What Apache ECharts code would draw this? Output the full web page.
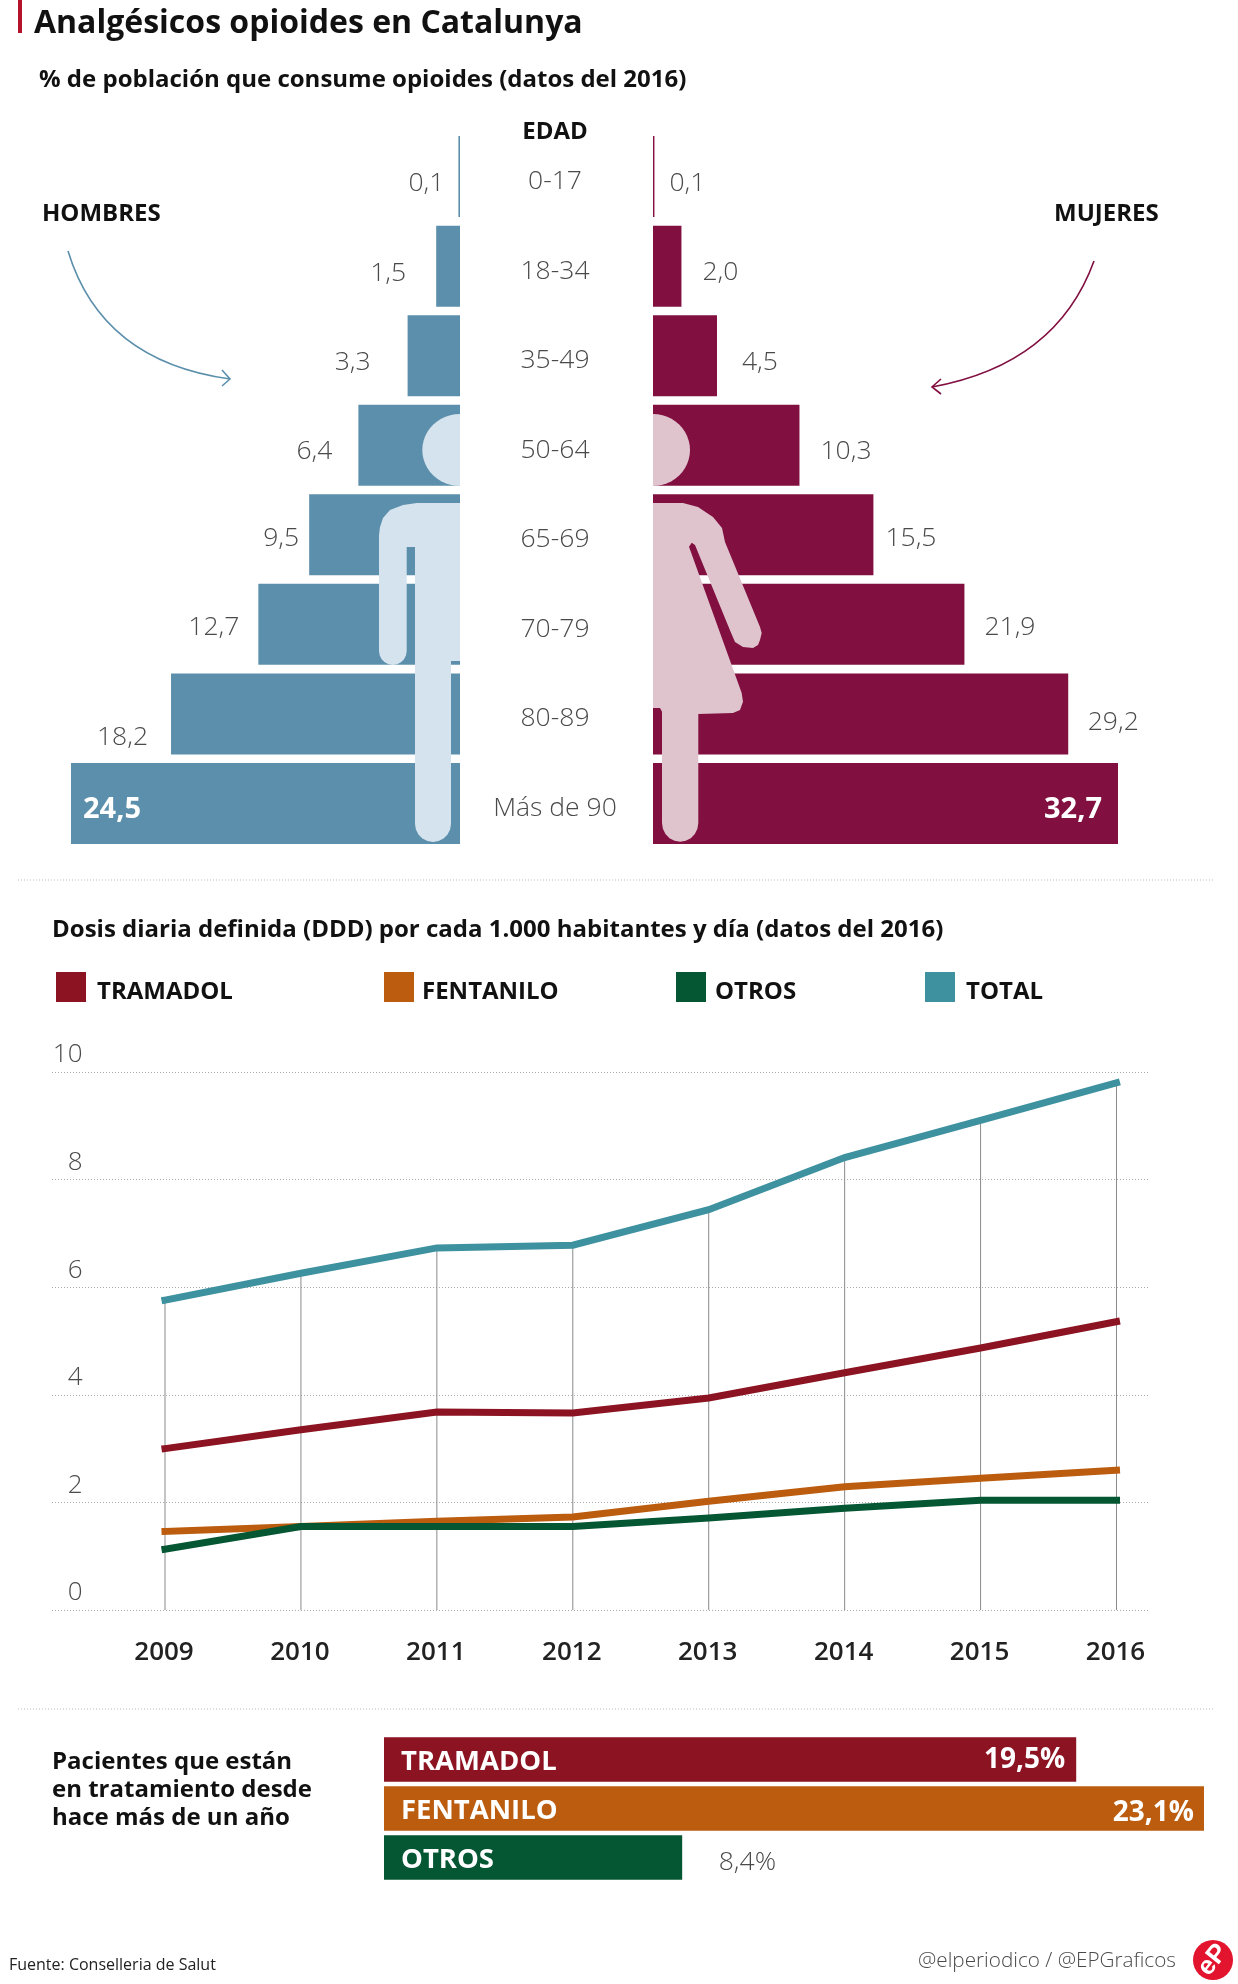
<!DOCTYPE html>
<html><head><meta charset="utf-8">
<style>html,body{margin:0;padding:0;background:#fff}#c{width:1238px;height:1984px}</style>
<script src="https://cdn.jsdelivr.net/npm/echarts@6/dist/echarts.min.js"></script>
</head><body><div id="c"></div>
<script>
// ---- data ----
const ageGroups = ['0-17','18-34','35-49','50-64','65-69','70-79','80-89','Más de 90'];
const menValues = [0.1,1.5,3.3,6.4,9.5,12.7,18.2,24.5];
const womenValues = [0.1,2.0,4.5,10.3,15.5,21.9,29.2,32.7];
const years = ['2009','2010','2011','2012','2013','2014','2015','2016'];
const tramadol = [3.0,3.35,3.68,3.66,3.94,4.41,4.87,5.36];
const fentanilo = [1.46,1.55,1.65,1.73,2.02,2.29,2.45,2.6];
const otros = [1.13,1.55,1.55,1.55,1.71,1.89,2.04,2.04];
const total = [5.76,6.26,6.73,6.78,7.44,8.41,9.1,9.8];
const longTermNames = ['TRAMADOL','FENTANILO','OTROS'];
const longTermValues = [19.5,23.1,8.4];

// ---- label nudges (style, not data) ----
const menGap = [14,30,37,26,10,19,23,12];
const menDy = [7,7,7,6,4,3,24,6];
const womenGap = [15,21,25,21,12,20,19.5,16];
const womenDy = [7,6,7,6,4,3,9,6];

const F = '"Open Sans"';
const INK = '#111', SOFT = '#4a4a4a';
const C = {men:'#5c8fac',women:'#810f40',tra:'#8c1321',fen:'#bb5c0e',otr:'#055633',tot:'#3e919f'};
const fmt = v => v.toFixed(1).replace('.',',');

function pyramidItems(vals,gaps,dys,side){
  return vals.map((v,i)=>{
    const last = i===vals.length-1;
    return {value:v,label:{
      position: last ? (side==='left'?'insideLeft':'insideRight') : side,
      distance: gaps[i], offset:[0,dys[i]],
      color: last?'#fff':SOFT, fontWeight: last?700:300, fontSize: last?29:26.5, fontFamily:F
    }};
  });
}
function arc(cx,cy,rx,ry,a0,a1,n){
  const p=[];for(let i=0;i<=n;i++){const a=(a0+(a1-a0)*i/n)*Math.PI/180;p.push([cx+rx*Math.cos(a),cy+ry*Math.sin(a)]);}return p;
}
const manBody = [[460,503],[417,503]].concat(
  [[403,505],[390,510],[383,518],[380,527],[379,535]],
  arc(392.85,651,13.85,14,180,0,10),
  [[406.7,547],[415,547]],
  arc(433,824,18,18,180,0,10),
  [[451,661],[460,661]]);
const womanBody = [[653,503],[683,503],[698,507],[713,517],[722,528],[725,542],[760,627],[761.7,633],[760,640],[758,645],[753,648],[743,647],[735,642],[730.7,632],[695,545],[691.7,542.7],[689,546.7],[741.7,693],[743,701.7],[740,710],[733,713],[698.3,714]].concat(
  arc(680.15,823,18.15,18.7,0,180,10),
  [[662,711.7],[660,708],[653,708]]);
const manHead = arc(460,450,37.7,36,90,270,24);
const womanHead = arc(653,450,37,36,-90,90,24);

function txt(x,y,t,o){return {type:'text',x,y,z:20,silent:true,style:Object.assign({text:t,fontFamily:F,fontSize:24,fontWeight:700,fill:INK,textVerticalAlign:'middle',textAlign:'left'},o||{})};}
function poly(points,fill){return {type:'polygon',z:10,silent:true,shape:{points},style:{fill}};}
function dotted(y){return {type:'line',silent:true,shape:{x1:18,y1:y,x2:1214,y2:y},style:{stroke:'#bbb',lineWidth:1,lineDash:[1,2]}};}
function curve(x1,y1,cx1,cy1,cx2,cy2,x2,y2,c){return {type:'bezierCurve',silent:true,shape:{x1,y1,x2,y2,cpx1:cx1,cpy1:cy1,cpx2:cx2,cpy2:cy2},style:{stroke:c,lineWidth:1.6,fill:'none'}};}
function head(pts,c){return {type:'polyline',silent:true,shape:{points:pts},style:{stroke:c,lineWidth:1.6,fill:'none'}};}

const legendPos = [['TRAMADOL',56,6],['FENTANILO',384,3],['OTROS',676,4],['TOTAL',925,6]];

const option = {
  animation:false,
  backgroundColor:'#fff',
  title:[
    {text:'Analgésicos opioides en Catalunya',left:34,top:7.5,padding:0,textStyle:{fontFamily:F,fontWeight:700,fontSize:32,color:INK}},
    {text:'% de población que consume opioides (datos del 2016)',left:39,top:68,padding:0,textStyle:{fontFamily:F,fontWeight:700,fontSize:24,color:INK}},
    {text:'Dosis diaria definida (DDD) por cada 1.000 habitantes y día (datos del 2016)',left:52,top:918,padding:0,textStyle:{fontFamily:F,fontWeight:700,fontSize:24,color:INK}}
  ],
  legend: legendPos.map(([n,x,pad])=>({data:[n],left:x,top:972,padding:0,icon:'rect',itemWidth:30,itemHeight:30,selectedMode:false,
    formatter:'{a|{name}}',
    textStyle:{fontFamily:F,fontWeight:700,fontSize:24,color:INK,
      rich:{a:{fontFamily:F,fontWeight:700,fontSize:24,color:INK,padding:[10,0,0,pad]}}}})),
  grid:[
    {left:71,top:131.8,width:389,height:716.4},
    {left:653,top:131.8,width:465,height:716.4},
    {left:52,top:1072,width:1096,height:538},
    {left:165,top:1072,width:951.5,height:538},
    {left:384,top:1735,width:820,height:147}
  ],
  xAxis:[
    {gridIndex:0,type:'value',inverse:true,min:0,max:24.5,show:false},
    {gridIndex:1,type:'value',min:0,max:32.7,show:false},
    {gridIndex:2,type:'value',min:0,max:1,show:false},
    {gridIndex:3,type:'category',data:years,boundaryGap:false,axisLine:{show:false},axisTick:{show:false},
      axisLabel:{fontFamily:F,fontWeight:600,fontSize:26,color:'#222',margin:30,interval:0,padding:[0,2,0,0]}},
    {gridIndex:4,type:'value',min:0,max:23.1,show:false}
  ],
  yAxis:[
    {gridIndex:0,type:'category',inverse:true,data:ageGroups,position:'right',axisLine:{show:false},axisTick:{show:false},
      axisLabel:{margin:95,align:'center',verticalAlign:'top',lineHeight:10,fontFamily:F,fontWeight:300,fontSize:26.5,color:SOFT}},
    {gridIndex:1,type:'category',inverse:true,data:ageGroups,show:false},
    {gridIndex:2,type:'value',min:0,max:10,interval:2,axisLine:{show:false},axisTick:{show:false},
      splitLine:{show:true,lineStyle:{color:'#aaa',type:[1,2],width:1}},
      axisLabel:{inside:true,align:'right',verticalAlign:'bottom',margin:30.5,padding:[0,0,4,0],fontFamily:F,fontWeight:300,fontSize:26,color:SOFT}},
    {gridIndex:3,type:'value',min:0,max:10,show:false},
    {gridIndex:4,type:'category',inverse:true,data:longTermNames,z:10,axisLine:{show:false},axisTick:{show:false},
      axisLabel:{inside:true,margin:17,verticalAlign:'top',lineHeight:6,fontFamily:F,fontWeight:700,fontSize:27.5,color:'#fff'}}
  ],
  series:[
    {type:'bar',xAxisIndex:0,yAxisIndex:0,barWidth:81,itemStyle:{color:C.men},label:{show:true,formatter:p=>fmt(p.value)},data:pyramidItems(menValues,menGap,menDy,'left')},
    {type:'bar',xAxisIndex:1,yAxisIndex:1,barWidth:81,itemStyle:{color:C.women},label:{show:true,formatter:p=>fmt(p.value)},data:pyramidItems(womenValues,womenGap,womenDy,'right')},
    {type:'bar',name:'guia',xAxisIndex:3,yAxisIndex:3,barWidth:1,z:1,itemStyle:{color:'#8a8a8a'},data:total,silent:true},
    ...[['TRAMADOL',tramadol,C.tra],['FENTANILO',fentanilo,C.fen],['OTROS',otros,C.otr],['TOTAL',total,C.tot]].map(([n,d,c])=>({
      type:'line',name:n,xAxisIndex:3,yAxisIndex:3,data:d,showSymbol:false,symbol:'none',z:3,color:c,
      itemStyle:{color:c},lineStyle:{color:c,width:7,cap:'square',join:'miter'}})),
    {type:'bar',xAxisIndex:4,yAxisIndex:4,barWidth:44.5,label:{show:true,formatter:p=>fmt(p.value)+'%'},
      data:longTermValues.map((v,i)=>({value:v,itemStyle:{color:[C.tra,C.fen,C.otr][i]},
        label: i<2 ? {position:'insideRight',distance:[11,10][i],offset:[0,[1,5][i]],color:'#fff',fontFamily:F,fontWeight:700,fontSize:28}
                   : {position:'right',distance:36.5,offset:[0,4.5],color:SOFT,fontFamily:F,fontWeight:300,fontSize:26.5}}))}
  ],
  graphic:{elements:[
    {type:'rect',silent:true,shape:{x:18,y:0,width:4,height:33},style:{fill:'#b5122b'}},
    txt(555,132,'EDAD',{textAlign:'center'}),
    txt(42,214,'HOMBRES'),
    txt(1054,214,'MUJERES'),
    curve(68,251,92,330,150,368,230,379,C.men),
    head([[222,370],[230,379],[222,386]],C.men),
    curve(1094,261,1069,330,1014,372,932,387,C.women),
    head([[941,379],[932,387],[941,394]],C.women),
    poly(manHead,'#d5e3ee'),poly(manBody,'#d5e3ee'),
    poly(womanHead,'#dfc3cd'),poly(womanBody,'#dfc3cd'),
    dotted(880),dotted(1709),
    txt(52,1762,'Pacientes que están'),
    txt(52,1790,'en tratamiento desde'),
    txt(52,1818,'hace más de un año'),
    txt(9,1965.5,'Fuente: Conselleria de Salut',{fontSize:16,fontWeight:400,fill:'#222'}),
    txt(918,1961,'@elperiodico / @EPGraficos',{fontSize:20.7,fontWeight:300,fill:SOFT}),
    {type:'circle',silent:true,shape:{cx:1213,cy:1960,r:20},style:{fill:'#e3142d'}},
    {type:'text',silent:true,z:21,x:1213,y:1960,rotation:0.9,style:{text:'eP',fontFamily:'"Liberation Sans"',fontWeight:700,fontSize:26,fill:'#fff',textAlign:'center',textVerticalAlign:'middle'}}
  ]}
};
const chart = echarts.init(document.getElementById('c'),null,{renderer:'canvas',width:1238,height:1984});
chart.setOption(option);
</script></body></html>
